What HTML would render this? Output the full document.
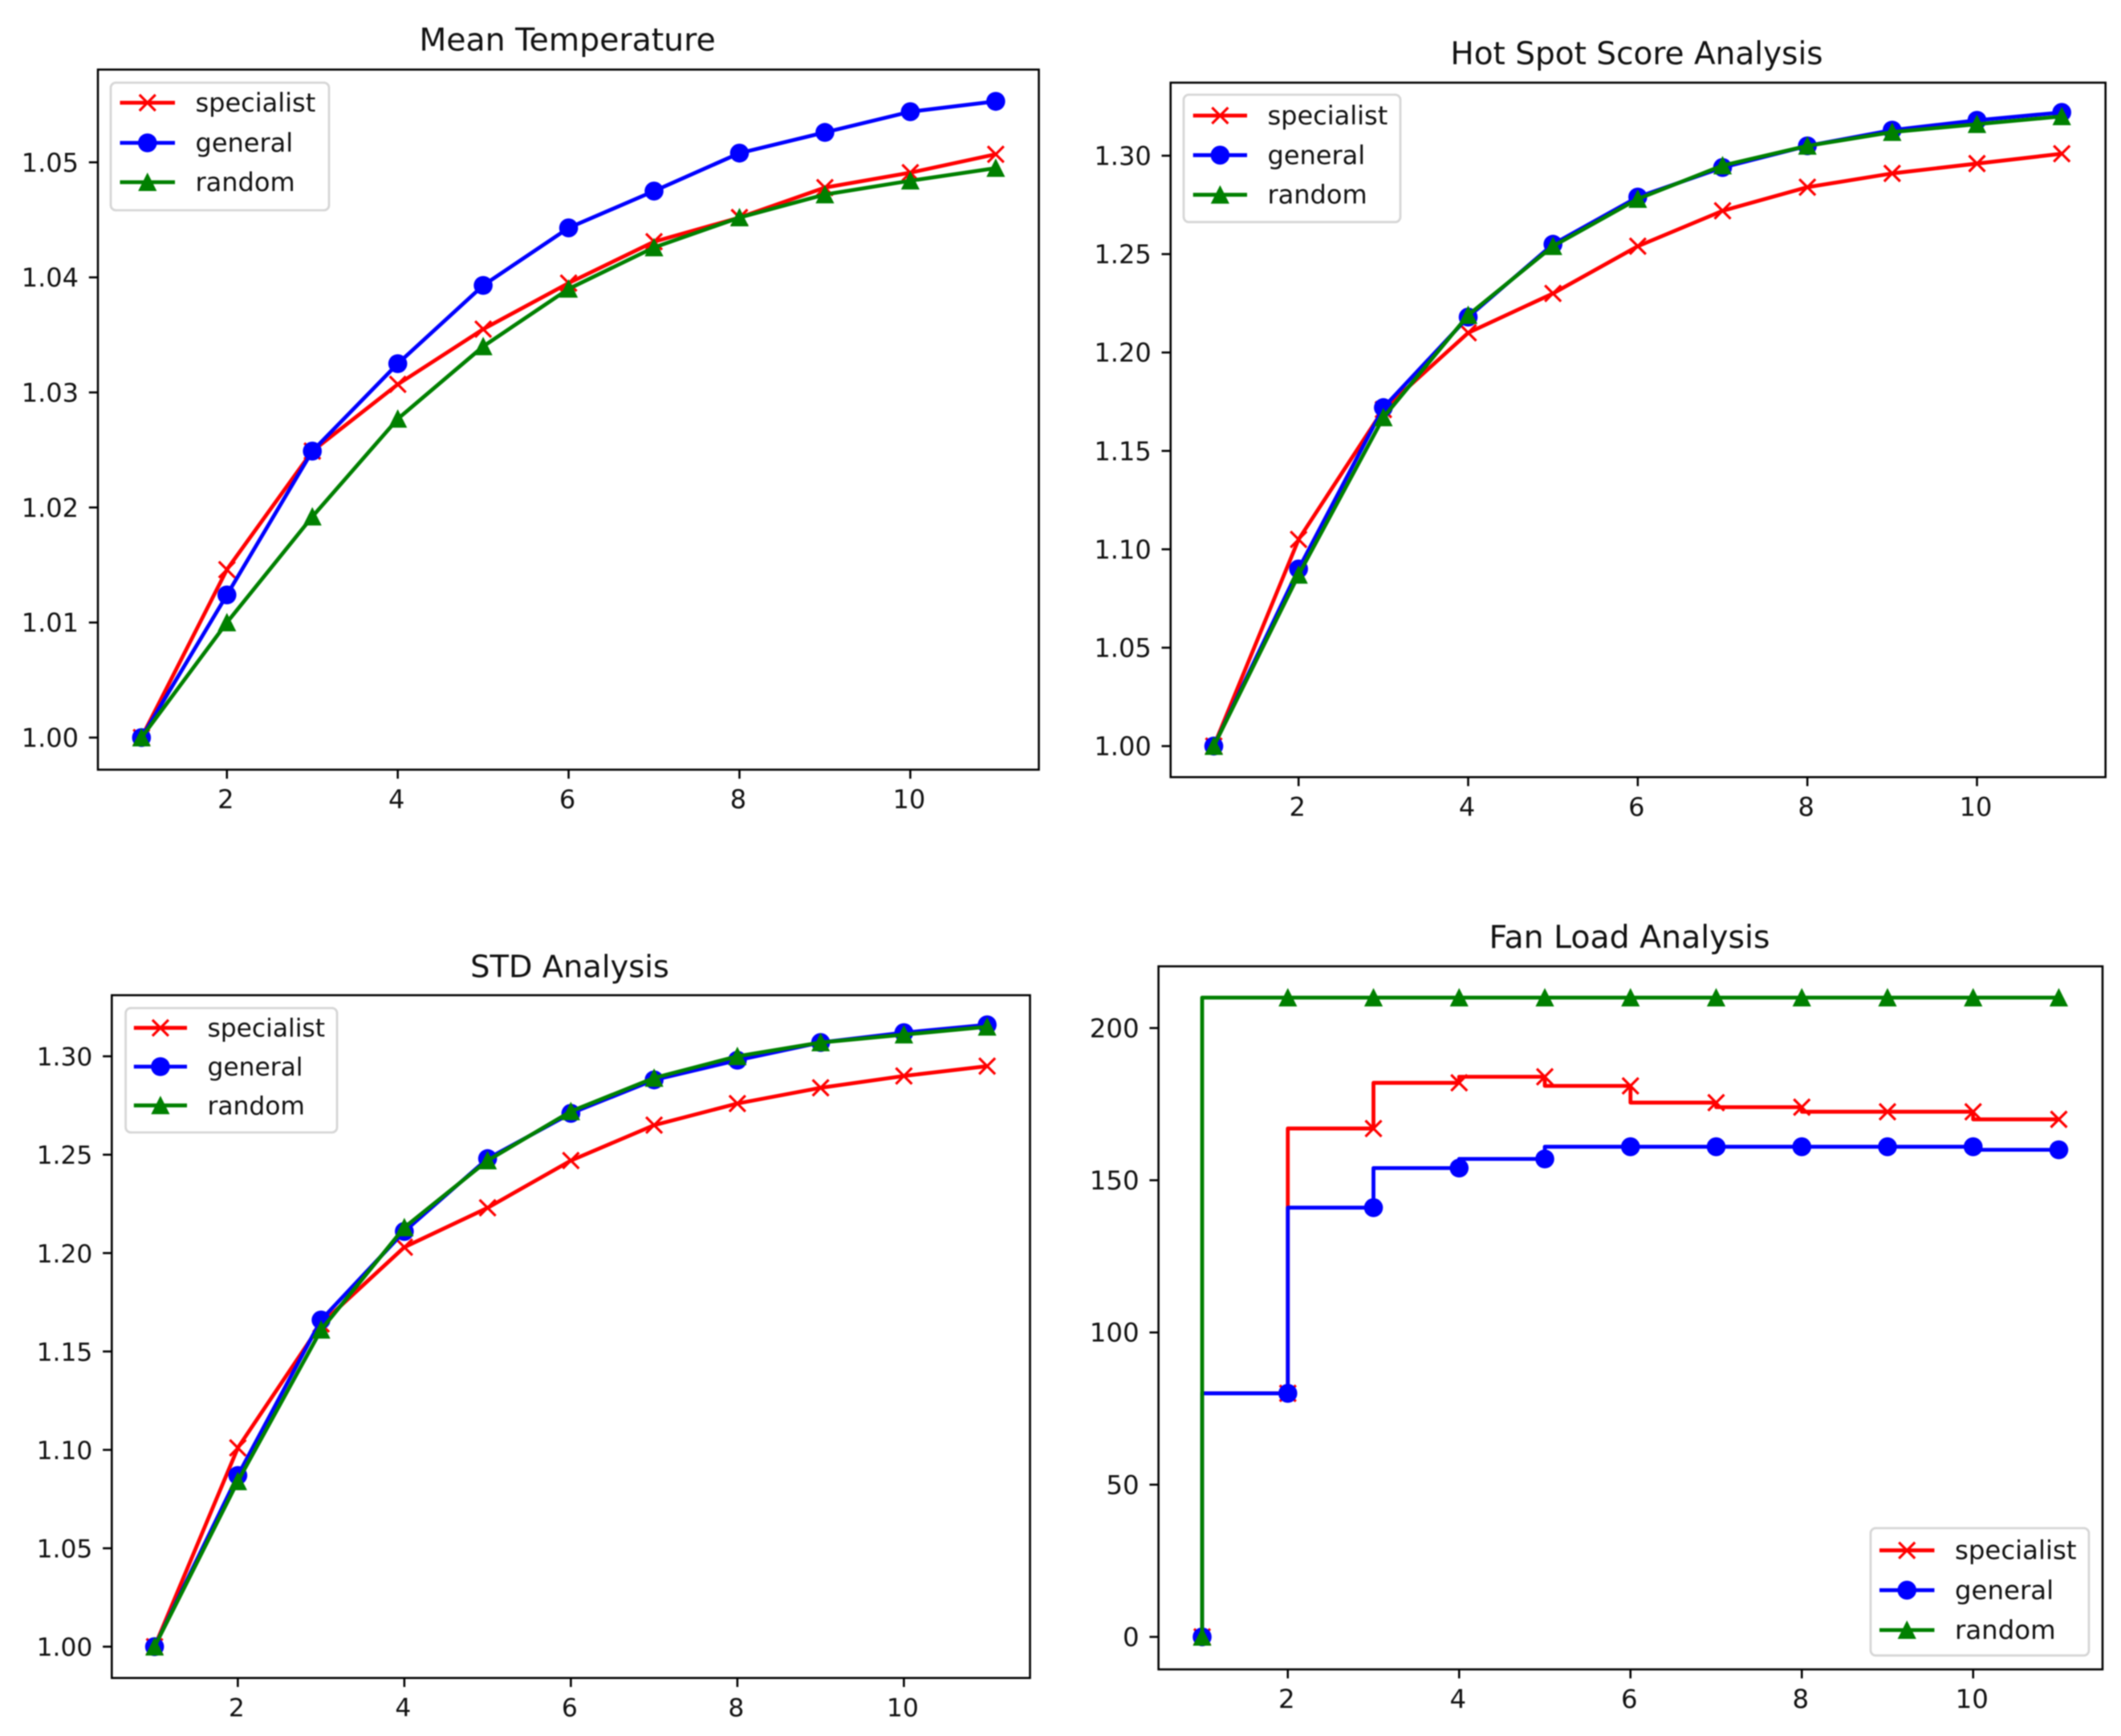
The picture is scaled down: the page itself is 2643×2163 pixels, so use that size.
<!DOCTYPE html>
<html lang="en">
<head>
<meta charset="utf-8">
<title>Analysis charts</title>
<style>
  html, body { margin: 0; padding: 0; background: #ffffff; }
  svg { display: block; filter: blur(0.8px); }
  text { font-family: "DejaVu Sans", "Liberation Sans", sans-serif; fill: #111111; }
</style>
</head>
<body>
<svg id="figure" xmlns="http://www.w3.org/2000/svg" width="2643" height="2163" viewBox="0 0 2643 2163"></svg>
<script>
// ---- Data ----
const xValues = [1, 2, 3, 4, 5, 6, 7, 8, 9, 10, 11];
const xTickValues = [2, 4, 6, 8, 10];
const xTickLabels = ['2', '4', '6', '8', '10'];
const seriesNames = ['specialist', 'general', 'random'];

const meanTempTitle = 'Mean Temperature';
const meanTempTicks = [1.00, 1.01, 1.02, 1.03, 1.04, 1.05];
const meanTempTickLabels = ['1.00', '1.01', '1.02', '1.03', '1.04', '1.05'];
const meanTempSpecialist = [1.0000, 1.0146, 1.0249, 1.0307, 1.0355, 1.0395, 1.0431, 1.0452, 1.0478, 1.0491, 1.0507];
const meanTempGeneral = [1.0000, 1.0124, 1.0249, 1.0325, 1.0393, 1.0443, 1.0475, 1.0508, 1.0526, 1.0544, 1.0553];
const meanTempRandom = [1.0000, 1.0100, 1.0192, 1.0277, 1.0340, 1.0390, 1.0426, 1.0452, 1.0472, 1.0484, 1.0495];

const hotSpotTitle = 'Hot Spot Score Analysis';
const hotSpotTicks = [1.00, 1.05, 1.10, 1.15, 1.20, 1.25, 1.30];
const hotSpotTickLabels = ['1.00', '1.05', '1.10', '1.15', '1.20', '1.25', '1.30'];
const hotSpotSpecialist = [1.000, 1.105, 1.171, 1.210, 1.230, 1.254, 1.272, 1.284, 1.291, 1.296, 1.301];
const hotSpotGeneral = [1.000, 1.090, 1.172, 1.218, 1.255, 1.279, 1.294, 1.305, 1.313, 1.318, 1.322];
const hotSpotRandom = [1.000, 1.087, 1.167, 1.219, 1.254, 1.278, 1.295, 1.305, 1.312, 1.316, 1.320];

const stdTitle = 'STD Analysis';
const stdTicks = [1.00, 1.05, 1.10, 1.15, 1.20, 1.25, 1.30];
const stdTickLabels = ['1.00', '1.05', '1.10', '1.15', '1.20', '1.25', '1.30'];
const stdSpecialist = [1.000, 1.101, 1.164, 1.203, 1.223, 1.247, 1.265, 1.276, 1.284, 1.290, 1.295];
const stdGeneral = [1.000, 1.087, 1.166, 1.211, 1.248, 1.271, 1.288, 1.298, 1.307, 1.312, 1.316];
const stdRandom = [1.000, 1.084, 1.161, 1.213, 1.247, 1.272, 1.289, 1.300, 1.307, 1.311, 1.315];

const fanTitle = 'Fan Load Analysis';
const fanTicks = [0, 50, 100, 150, 200];
const fanTickLabels = ['0', '50', '100', '150', '200'];
const fanSpecialist = [0, 80, 167, 182, 184, 181, 175.5, 174, 172.5, 172.5, 170];
const fanGeneral = [0, 80, 141, 154, 157, 161, 161, 161, 161, 161, 160];
const fanRandom = [0, 210, 210, 210, 210, 210, 210, 210, 210, 210, 210];

// ---- Layout (pixel frames and axis calibration, separate from the data) ----
const layouts = {
  meanTemp: { slug: 'mean-temperature', left: 122, right: 1294.5, top: 86.7, bottom: 959, x1: 176.3, xUnit: 106.45, yRef: 1.00, yRefPx: 919, yUnitPx: 14335, font: 32, titleFont: 39.4, titleX: 707, titleY: 63, legend: { x: 138, y: 103, w: 272, h: 159, hx0: 149.5, hx1: 218, tx: 243.5, rows: [128, 178, 227] }, step: false },
  hotSpot: { slug: 'hot-spot', left: 1458.7, right: 2623.7, top: 103, bottom: 968.3, x1: 1512.5, xUnit: 105.67, yRef: 1.00, yRefPx: 929.6, yUnitPx: 2452, font: 32, titleFont: 39, titleX: 2039.5, titleY: 80, legend: { x: 1475, y: 118, w: 270, h: 158.7, hx0: 1486.7, hx1: 1554, tx: 1579.5, rows: [144, 193.3, 242.7] }, step: false },
  std: { slug: 'std', left: 139.3, right: 1283.5, top: 1240, bottom: 2090.7, x1: 192.6, xUnit: 103.75, yRef: 1.00, yRefPx: 2051.7, yUnitPx: 2452, font: 31.3, titleFont: 38.4, titleX: 710, titleY: 1217.7, legend: { x: 156.6, y: 1256, w: 263.4, h: 155, hx0: 166.8, hx1: 233, tx: 258.5, rows: [1280.7, 1329, 1377.3] }, step: false },
  fan: { slug: 'fan-load', left: 1443.6, right: 2620, top: 1204, bottom: 2080, x1: 1498, xUnit: 106.75, yRef: 0, yRefPx: 2039.5, yUnitPx: 3.793, font: 32.4, titleFont: 39.4, titleX: 2030.5, titleY: 1181, legend: { x: 2331, y: 1904, w: 272, h: 158.7, hx0: 2342, hx1: 2410.5, tx: 2436, rows: [1931.7, 1981.3, 2031] }, step: true }
};

const SVG_NS = 'http://www.w3.org/2000/svg';
const figure = document.getElementById('figure');
const seriesColors = ['#ff0000', '#0000ff', '#008000'];
const LINE_W = 4.8;
const SPINE_W = 2.56;
const TICK_LEN = 11.2;

function make(tag, parent, attrs, text) {
  const node = document.createElementNS(SVG_NS, tag);
  Object.keys(attrs).forEach(function (k) { node.setAttribute(k, attrs[k]); });
  if (text !== undefined) node.textContent = text;
  parent.appendChild(node);
  return node;
}

function drawMarker(parent, kind, cx, cy, color, name) {
  let el;
  if (kind === 0) {
    const r = 10;
    el = make('path', parent, { d: 'M' + (cx - r) + ' ' + (cy - r) + 'L' + (cx + r) + ' ' + (cy + r) + 'M' + (cx - r) + ' ' + (cy + r) + 'L' + (cx + r) + ' ' + (cy - r), stroke: color, 'stroke-width': 3.2, fill: 'none' });
  } else if (kind === 1) {
    el = make('circle', parent, { cx: cx, cy: cy, r: 11.8, fill: color });
  } else {
    el = make('polygon', parent, { points: cx + ',' + (cy - 12) + ' ' + (cx - 11.6) + ',' + (cy + 11) + ' ' + (cx + 11.6) + ',' + (cy + 11), fill: color });
  }
  
  
}

function drawPanel(layout, title, ticks, tickLabels, seriesList) {
  const xScale = function (v) { return layout.x1 + (v - 1) * layout.xUnit; };
  const yScale = function (v) { return layout.yRefPx - (v - layout.yRef) * layout.yUnitPx; };

  const group = make('g', figure, {});
  
  

  const titleEl = make('text', group, { x: layout.titleX, y: layout.titleY, 'text-anchor': 'middle', 'font-size': layout.titleFont }, title);
  
  

  // x ticks
  xTickValues.forEach(function (v, i) {
    const px = xScale(v);
    const tick = make('line', group, { x1: px, x2: px, y1: layout.bottom, y2: layout.bottom + TICK_LEN, stroke: '#000', 'stroke-width': SPINE_W });
    
    
    const label = make('text', group, { x: px - 1.5, y: layout.bottom + 48, 'text-anchor': 'middle', 'font-size': layout.font }, xTickLabels[i]);
    
    
  });

  // y ticks
  ticks.forEach(function (v, i) {
    const py = yScale(v);
    const tick = make('line', group, { x1: layout.left - TICK_LEN, x2: layout.left, y1: py, y2: py, stroke: '#000', 'stroke-width': SPINE_W });
    
    
    const label = make('text', group, { x: layout.left - 24, y: py + 11.5, 'text-anchor': 'end', 'font-size': layout.font }, tickLabels[i]);
    
    
  });

  // series
  seriesList.forEach(function (values, s) {
    const seriesGroup = make('g', group, {});
    
    
    let d = 'M' + xScale(xValues[0]) + ' ' + yScale(values[0]);
    for (let i = 1; i < values.length; i++) {
      if (layout.step) {
        d += 'L' + xScale(xValues[i - 1]) + ' ' + yScale(values[i]) + 'L' + xScale(xValues[i]) + ' ' + yScale(values[i]);
      } else {
        d += 'L' + xScale(xValues[i]) + ' ' + yScale(values[i]);
      }
    }
    const line = make('path', seriesGroup, { d: d, fill: 'none', stroke: seriesColors[s], 'stroke-width': LINE_W, 'stroke-linejoin': 'round', 'stroke-linecap': 'square' });
    
    
    values.forEach(function (v, i) {
      drawMarker(seriesGroup, s, xScale(xValues[i]), yScale(v), seriesColors[s], layout.slug + '-point-' + seriesNames[s]);
    });
  });

  // axes frame
  const frame = make('rect', group, { x: layout.left, y: layout.top, width: layout.right - layout.left, height: layout.bottom - layout.top, fill: 'none', stroke: '#000', 'stroke-width': SPINE_W });
  
  

  // legend
  const lg = layout.legend;
  const legendGroup = make('g', group, {});
  
  
  const box = make('rect', legendGroup, { x: lg.x, y: lg.y, width: lg.w, height: lg.h, rx: 6.4, ry: 6.4, fill: '#ffffff', 'fill-opacity': 0.8, stroke: '#d6d6d6', 'stroke-width': 2.8 });
  
  
  seriesNames.forEach(function (name, s) {
    const rowY = lg.rows[s];
    const handle = make('line', legendGroup, { x1: lg.hx0, x2: lg.hx1, y1: rowY, y2: rowY, stroke: seriesColors[s], 'stroke-width': LINE_W });
    
    
    drawMarker(legendGroup, s, (lg.hx0 + lg.hx1) / 2, rowY, seriesColors[s], layout.slug + '-legend-marker-' + name);
    const label = make('text', legendGroup, { x: lg.tx, y: rowY + 11, 'font-size': layout.font }, name);
    
    
  });
}

drawPanel(layouts.meanTemp, meanTempTitle, meanTempTicks, meanTempTickLabels, [meanTempSpecialist, meanTempGeneral, meanTempRandom]);
drawPanel(layouts.hotSpot, hotSpotTitle, hotSpotTicks, hotSpotTickLabels, [hotSpotSpecialist, hotSpotGeneral, hotSpotRandom]);
drawPanel(layouts.std, stdTitle, stdTicks, stdTickLabels, [stdSpecialist, stdGeneral, stdRandom]);
drawPanel(layouts.fan, fanTitle, fanTicks, fanTickLabels, [fanSpecialist, fanGeneral, fanRandom]);
</script>
</body>
</html>
